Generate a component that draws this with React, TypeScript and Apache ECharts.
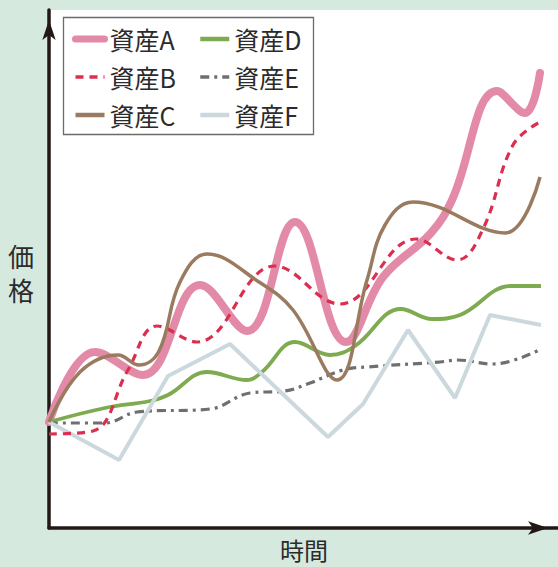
import React, { useEffect, useRef } from "react";
import * as echarts from "echarts";

// Time (horizontal) and price (vertical) readings for each asset; no ticks in the original.
const seriesNames = ["資産A", "資産B", "資産C", "資産D", "資産E", "資産F"];

const assetA: number[][] = [
  [0, 106], [46, 176], [94, 153], [151, 243], [198, 197], [246, 306], [297, 186],
  [334, 251], [382, 295], [403, 328], [448, 437], [476, 415], [491, 455],
];
const assetB: number[][] = [
  [0, 94], [44, 97], [79, 158], [108, 202], [148, 186], [226, 262], [291, 224],
  [367, 289], [408, 268], [434, 299], [464, 383], [491, 406],
];
const assetC: number[][] = [
  [0, 106], [31, 156], [69, 173], [90, 163], [110, 177], [131, 246], [158, 274],
  [210, 246], [244, 218], [288, 148], [318, 248], [336, 303], [364, 326],
  [456, 295], [491, 351],
];
const assetD: number[][] = [
  [0, 106], [56, 120], [101, 127], [119, 133], [158, 156], [198, 148], [213, 156],
  [246, 186], [281, 173], [306, 182], [352, 219], [383, 209], [411, 213],
  [462, 242], [492, 242],
];
const assetE: number[][] = [
  [0, 105], [56, 105], [88, 116], [161, 119], [201, 135], [236, 137], [261, 145],
  [294, 158], [318, 161], [391, 166], [408, 168], [444, 164], [490, 178],
];
const assetF: number[][] = [
  [0, 106], [70, 68], [119, 152], [181, 184], [279, 91], [314, 124], [359, 198],
  [406, 130], [441, 213], [492, 203],
];

const xAxisName = "時間";
const yAxisName = "価格";

const colors = ["#e38aa8", "#dc2f50", "#9a7b60", "#7eab50", "#6f6f6f", "#cbd8de"];
const legendWidths = [7, 3.5, 4.5, 4.5, 3.5, 4.5];

const FONT = '"Noto Sans CJK JP", "Noto Sans", sans-serif';

export default function App() {
  const ref = useRef<HTMLDivElement>(null);

  useEffect(() => {
    document.body.style.margin = "0";
    if (!ref.current) return;
    const chart = echarts.init(ref.current, undefined, { renderer: "svg" });

    const axisLine = {
      show: true,
      symbol: ["none", "arrow"],
      symbolSize: [10, 20],
      symbolOffset: [0, -10],
      lineStyle: { color: "#231815", width: 3.5 },
    };

    const common = {
      type: "line",
      showSymbol: false,
      symbol: "none",
      smooth: 0.4,
    };

    const legendText = {
      fontSize: 25,
      color: "#2b2b2b",
      fontFamily: FONT,
      lineHeight: 26,
    };

    const legendBase = {
      orient: "vertical",
      top: 21,
      itemWidth: 29,
      itemHeight: 14,
      itemGap: 12,
      textStyle: legendText,
      itemStyle: { opacity: 0 },
      z: 10,
    };

    const legendItem = (i: number) => ({
      name: seriesNames[i],
      lineStyle: { width: legendWidths[i], cap: i === 0 ? "round" : "butt" },
    });

    const yChars = yAxisName.split("");

    const axisText = (text: string, x: number, y: number, size: number) => ({
      type: "text",
      x,
      y,
      style: {
        text,
        fontSize: size,
        lineHeight: size,
        fill: "#2b2b2b",
        fontFamily: FONT,
        align: "center",
        verticalAlign: "middle",
      },
    });

    chart.setOption({
      animation: false,
      backgroundColor: "#d5e9de",
      grid: {
        left: 49,
        top: 10,
        right: 0,
        bottom: 39,
        show: true,
        backgroundColor: "#ffffff",
        borderWidth: 0,
      },
      xAxis: {
        type: "value",
        min: 0,
        max: 509,
        axisLine,
        axisTick: { show: false },
        axisLabel: { show: false },
        splitLine: { show: false },
      },
      yAxis: {
        type: "value",
        min: 0,
        max: 518,
        axisLine,
        axisTick: { show: false },
        axisLabel: { show: false },
        splitLine: { show: false },
      },
      legend: [
        {
          ...legendBase,
          data: [legendItem(0), legendItem(1), legendItem(2)],
          left: 67,
        },
        {
          ...legendBase,
          data: [legendItem(3), legendItem(4), legendItem(5)],
          left: 193,
        },
      ],
      graphic: [
        {
          type: "rect",
          shape: { x: 63.5, y: 17.5, width: 250, height: 117 },
          style: { fill: "#ffffff", stroke: "#6d6a68", lineWidth: 1.3 },
          z: 5,
        },
        axisText(yChars[0], 21, 255, 26),
        axisText(yChars[1], 21, 289, 26),
        axisText(xAxisName, 304, 549, 24),
      ],
      series: [
        {
          ...common,
          name: seriesNames[0],
          data: assetA,
          z: 2,
          lineStyle: { color: colors[0], width: 8, cap: "round", join: "round" },
          itemStyle: { color: colors[0] },
        },
        {
          ...common,
          name: seriesNames[1],
          data: assetB,
          z: 4,
          lineStyle: { color: colors[1], width: 3.2, type: [8, 6] },
          itemStyle: { color: colors[1] },
        },
        {
          ...common,
          name: seriesNames[2],
          data: assetC,
          z: 4,
          lineStyle: { color: colors[2], width: 3.5 },
          itemStyle: { color: colors[2] },
        },
        {
          ...common,
          name: seriesNames[3],
          data: assetD,
          z: 3,
          lineStyle: { color: colors[3], width: 3.8 },
          itemStyle: { color: colors[3] },
        },
        {
          ...common,
          name: seriesNames[4],
          data: assetE,
          z: 3,
          lineStyle: { color: colors[4], width: 3.2, type: [9, 5, 3, 5] },
          itemStyle: { color: colors[4] },
        },
        {
          ...common,
          name: seriesNames[5],
          data: assetF,
          smooth: false,
          z: 3,
          lineStyle: { color: colors[5], width: 4 },
          itemStyle: { color: colors[5] },
        },
      ],
    });

    return () => chart.dispose();
  }, []);

  return (
    <div
      ref={ref}
      style={{ width: 558, height: 567, position: "absolute", left: 0, top: 0 }}
    />
  );
}
